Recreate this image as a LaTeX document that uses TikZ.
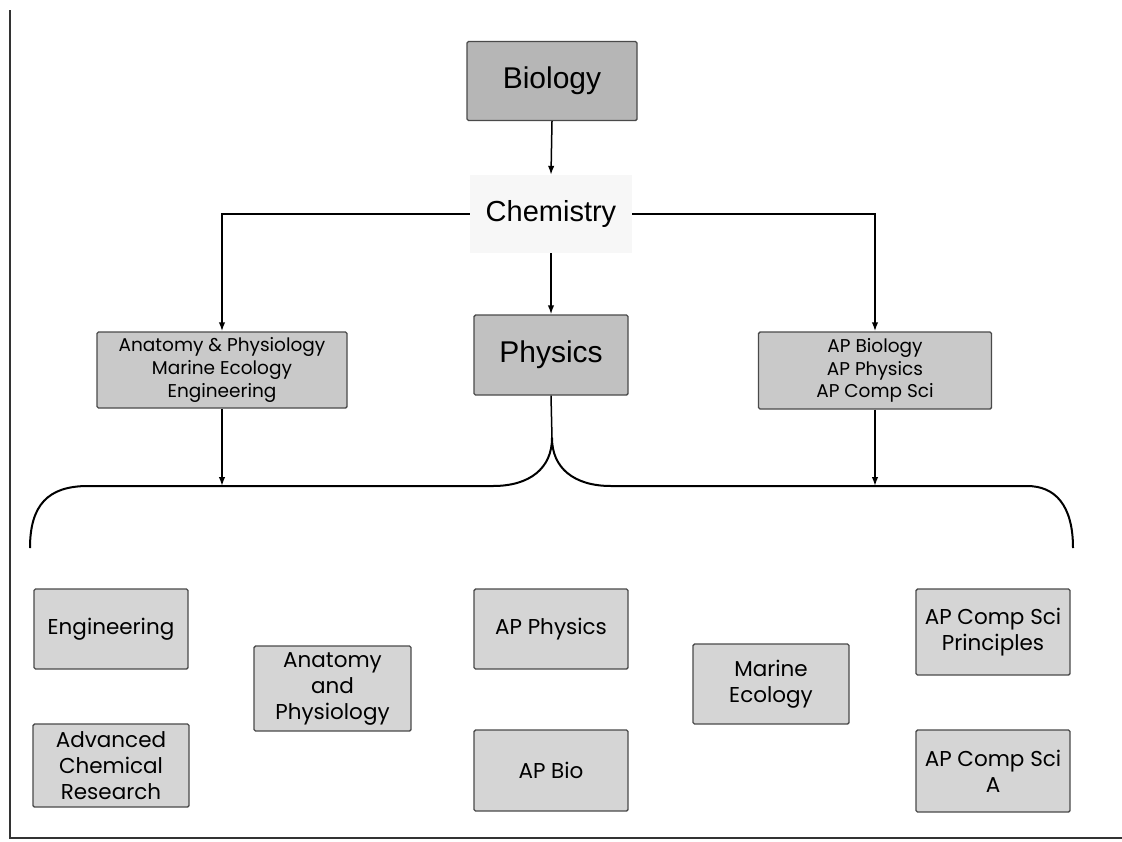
\documentclass[tikz,border=0pt]{standalone}
\usepackage{fontspec}
\setmainfont{Liberation Sans}
\newfontfamily\geofont{Poppins}
\usetikzlibrary{arrows.meta}
\definecolor{darkfill}{HTML}{B6B6B6}
\definecolor{midfill}{HTML}{C9C9C9}
\definecolor{lightfill}{HTML}{D5D5D5}
\definecolor{edgegray}{HTML}{4A4A4A}
\tikzset{
  box/.style={draw=edgegray, line width=1.4pt, rounded corners=1.5pt, align=center, inner sep=0pt, text=black},
  bigbox/.style={box, fill=darkfill, font=\fontsize{30}{34}\selectfont},
  listbox/.style={box, fill=midfill, font=\geofont\fontsize{18.5}{22.7}\selectfont},
  coursebox/.style={box, fill=lightfill, font=\geofont\fontsize{21.5}{26}\selectfont},
  conn/.style={draw=black, line width=1.5pt},
  arr/.style={conn, -{Latex[length=9pt,width=6.5pt]}},
}
\begin{document}
\begin{tikzpicture}[x=1pt,y=-1pt]
\useasboundingbox (0,0) rectangle (1122,841);
\fill[white] (0,0) rectangle (1122,841);
% frame lines
\draw[line width=1.8pt, draw=black!80] (10,10) -- (10,838) -- (1122,838);

% top level
\node[bigbox, minimum width=170pt, minimum height=79pt] (bio) at (552,81) {Biology};
\node[fill=black!3, minimum width=162pt, minimum height=78pt, inner sep=0pt, font=\fontsize{29}{33}\selectfont] (chem) at (551,214) {Chemistry};
\node[listbox, minimum width=250pt, minimum height=76pt] (anat) at (222,370) {Anatomy \& Physiology\\Marine Ecology\\Engineering};
\node[bigbox, fill=darkfill!85!white, minimum width=154pt, minimum height=80pt] (phys) at (551,355) {Physics};
\node[listbox, minimum width=233pt, minimum height=77pt] (ap) at (875,370.5) {AP Biology\\AP Physics\\AP Comp Sci};

% bottom courses
\node[coursebox, minimum width=154pt, minimum height=80pt] (eng) at (111,629) {Engineering};
\node[coursebox, minimum width=156pt, minimum height=83pt] (acr) at (111,765.5) {Advanced\\Chemical\\Research};
\node[coursebox, minimum width=157pt, minimum height=85pt] (anph) at (332.5,688.5) {Anatomy\\and\\Physiology};
\node[coursebox, minimum width=154pt, minimum height=80pt] (apphys) at (551,629) {AP Physics};
\node[coursebox, minimum width=154pt, minimum height=81pt] (apbio) at (551,770.5) {AP Bio};
\node[coursebox, minimum width=156pt, minimum height=80pt] (marine) at (771,684) {Marine\\Ecology};
\node[coursebox, minimum width=154pt, minimum height=86pt] (apcsp) at (993,632) {AP Comp Sci\\Principles};
\node[coursebox, minimum width=154pt, minimum height=82pt] (apcsa) at (993,771) {AP Comp Sci\\A};

% brace coordinates
\coordinate (cusp) at (552,438);
\coordinate (bl) at (220,486);
\coordinate (br) at (877,486);

% connectors
\draw[arr] (bio.south) -- (chem.north);
\draw[arr] (chem.south) -- (phys.north);
\draw[arr, line width=1.8pt] (chem.west) -| (anat.north);
\draw[arr, line width=1.8pt] (chem.east) -| (ap.north);
\draw[arr] (anat.south) -- (anat.south |- bl);
\draw[arr] (ap.south) -- (ap.south |- br);
\draw[conn] (phys.south) -- (cusp);

% brace
\draw[line width=2pt] (30,548) .. controls (30,505) and (48,486) .. (88,486)
  -- (493,486) .. controls (530,486) and (552,468) .. (cusp)
  .. controls (552,468) and (574,486) .. (611,486)
  -- (1027,486) .. controls (1055,486) and (1073,505) .. (1073,548);
\end{tikzpicture}
\end{document}
